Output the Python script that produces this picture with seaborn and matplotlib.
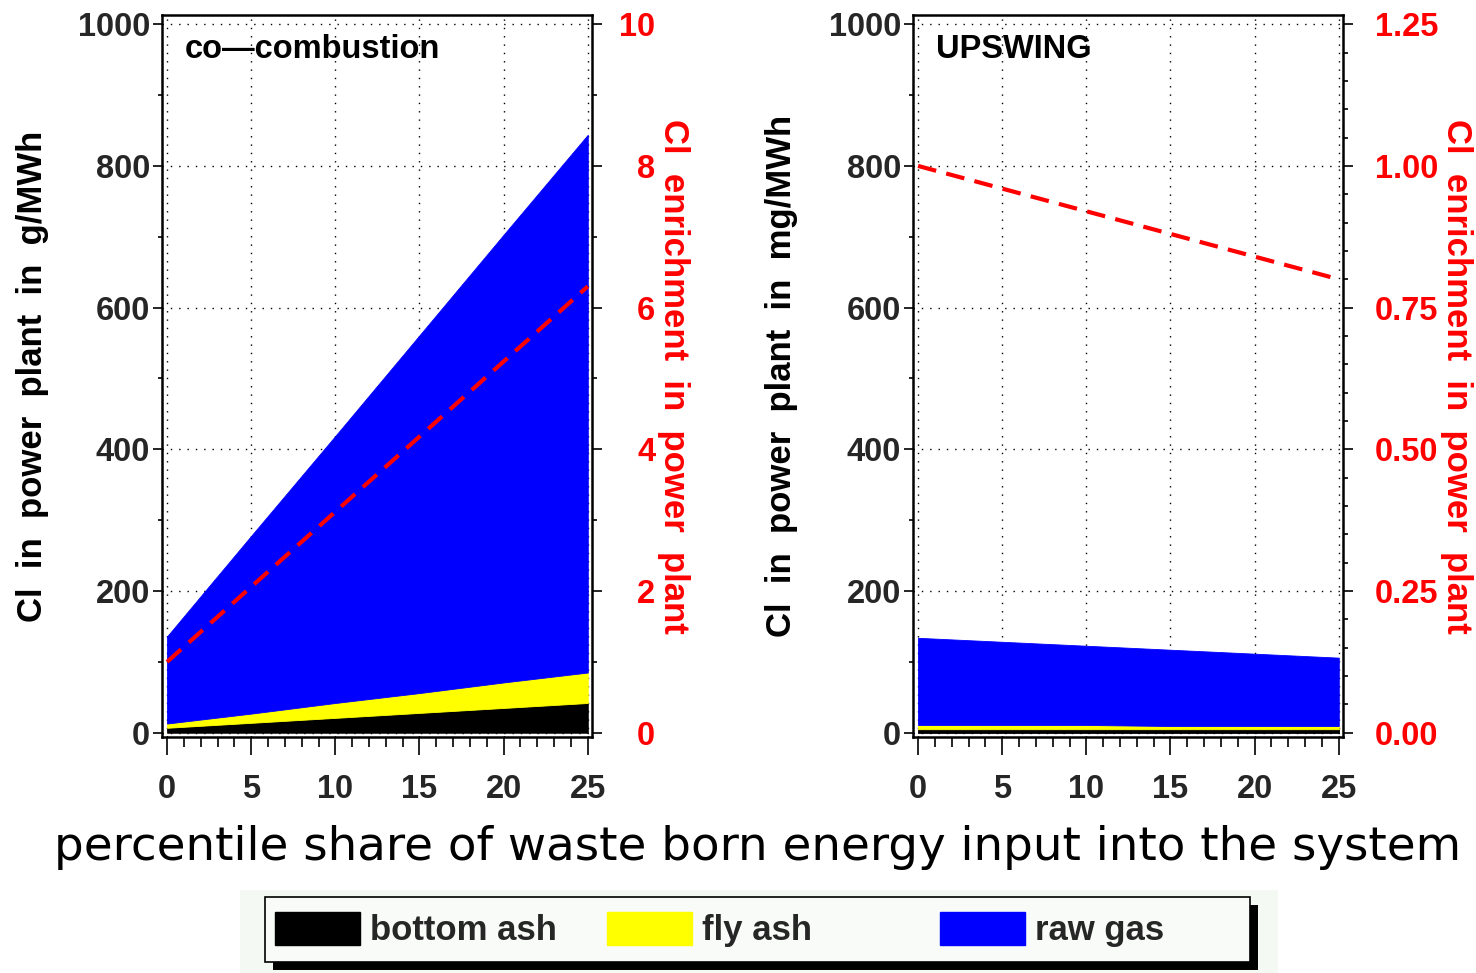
import numpy as np
import pandas as pd
import matplotlib
matplotlib.use("Agg")
import matplotlib.pyplot as plt
from matplotlib.patches import Patch, Rectangle
from matplotlib.ticker import MultipleLocator, FormatStrFormatter
import seaborn as sns

# share of waste-born energy input (%)
share = [0, 5, 10, 15, 20, 25]

# co-combustion scenario, Cl in g/MWh
cc_bottom_ash = [7, 14, 21, 28, 35, 42]
cc_fly_ash = [6, 13, 21, 28, 36, 43]
cc_raw_gas = [123, 251, 377, 505, 632, 759]
cc_enrichment = [1.0, 2.06, 3.12, 4.18, 5.24, 6.3]

# UPSWING scenario, Cl in mg/MWh
up_bottom_ash = [5, 5, 5, 5, 5, 5]
up_fly_ash = [6, 6, 6, 4.5, 4.5, 4.5]
up_raw_gas = [123, 117.4, 111.8, 107.7, 102.1, 96.5]
up_enrichment = [1.0, 0.96, 0.92, 0.88, 0.84, 0.80]

components = ["bottom ash", "fly ash", "raw gas"]
component_colors = ["#000000", "#ffff00", "#0000ff"]

sns.set_theme(style="white")
plt.rcParams["font.family"] = ["Liberation Sans", "DejaVu Sans"]
plt.rcParams["font.weight"] = "bold"

W, H = 1476, 973
fig = plt.figure(figsize=(W / 100, H / 100), dpi=100, facecolor="white")

YLIM = (-6, 1013)
XLIM = (-0.3, 25.25)
FS = 23.5      # tick labels
LFS = 25       # axis labels
TFS = 23.5     # panel titles


def draw_panel(left_px, bottom, fly, gas, enrich, title, ylabel,
               enrich_scale, enrich_major, enrich_minor, fmt, red_pad):
    rect = [left_px / W, 1 - 737 / H, 430 / W, 722 / H]
    ax = fig.add_axes(rect)
    ax.stackplot(share, bottom, fly, gas, colors=component_colors,
                 linewidth=0.6, edgecolor="face", zorder=1)
    ax.set_xlim(*XLIM)
    ax.set_ylim(*YLIM)
    ax.set_axisbelow(True)

    ax.xaxis.set_major_locator(MultipleLocator(5))
    ax.xaxis.set_minor_locator(MultipleLocator(1))
    ax.yaxis.set_major_locator(MultipleLocator(200))
    ax.yaxis.set_minor_locator(MultipleLocator(100))
    ax.grid(True, which="major", color="black", linestyle=(0, (1, 5)),
            linewidth=1.0)
    ax.tick_params(axis="x", which="major", direction="out", length=13,
                   width=1.2, color="black", pad=14, labelsize=FS,
                   bottom=True, top=False)
    ax.tick_params(axis="x", which="minor", direction="out", length=7,
                   width=1.2, color="black", bottom=True, top=False)
    ax.tick_params(axis="y", which="major", direction="out", length=6.5,
                   width=1.2, color="black", pad=2, labelsize=FS,
                   left=True, right=False)
    ax.tick_params(axis="y", which="minor", direction="out", length=3,
                   width=1.2, color="black", left=True, right=False)
    for s in ax.spines.values():
        s.set_visible(True)
        s.set_color("black")
        s.set_linewidth(1.8)

    ax.set_ylabel(ylabel, fontsize=LFS, fontweight="bold", color="black",
                  va="center", ha="center")
    ax.yaxis.set_label_coords(-0.298, 0.5)
    ax.text(0.053, 0.952, title, transform=ax.transAxes, fontsize=TFS,
            fontweight="bold", ha="left", va="center", color="black")

    ax2 = ax.twinx()
    sns.lineplot(x=share, y=enrich, ax=ax2, color="#ff0000", linewidth=3,
                 linestyle=(0, (4.5, 2.5)), zorder=3)
    ax2.set_ylim(YLIM[0] * enrich_scale, YLIM[1] * enrich_scale)
    ax2.yaxis.set_major_locator(MultipleLocator(enrich_major))
    ax2.yaxis.set_minor_locator(MultipleLocator(enrich_minor))
    ax2.yaxis.set_major_formatter(FormatStrFormatter(fmt))
    ax2.tick_params(axis="y", which="major", direction="out", length=7.5,
                    width=1.2, color="black", labelcolor="#ff0000",
                    labelsize=FS, pad=red_pad, right=True, left=False)
    ax2.tick_params(axis="y", which="minor", direction="out", length=3.5,
                    width=1.2, color="black", right=True, left=False)
    for s in ax2.spines.values():
        s.set_visible(False)
    ax2.grid(False)
    ax2.set_ylabel("Cl  enrichment  in  power  plant", fontsize=LFS,
                   fontweight="bold", color="#ff0000", rotation=270,
                   va="center", ha="center")
    return ax, ax2


ax_l, ax_l2 = draw_panel(162, cc_bottom_ash, cc_fly_ash, cc_raw_gas,
                         cc_enrichment, "co\u2014combustion",
                         "Cl  in  power  plant  in  g/MWh",
                         0.01, 2, 1, "%d", 38)
ax_r, ax_r2 = draw_panel(913, up_bottom_ash, up_fly_ash, up_raw_gas,
                         up_enrichment, "UPSWING",
                         "Cl  in  power  plant  in  mg/MWh",
                         0.00125, 0.25, 0.05, "%.2f", 61)
ax_l.yaxis.set_label_coords(-0.30, 0.5)
ax_r.yaxis.set_label_coords(-0.305, 0.5)
ax_l2.yaxis.set_label_coords(1.19, 0.5)
ax_r2.yaxis.set_label_coords(1.263, 0.5)
for a in (ax_l2, ax_r2):
    plt.setp(a.get_yticklabels(), ha="right")

# shared x-axis caption
fig.text(758 / W, 1 - 848 / H,
         "percentile share of waste born energy input into the system",
         fontsize=33.7, fontweight="normal", family=["DejaVu Sans"],
         ha="center", va="center", color="black")

# light panel behind the legend
fig.patches.append(Rectangle((240 / W, 0), 1038 / W, 83 / H,
                             transform=fig.transFigure, facecolor="#f4f9f4",
                             edgecolor="none", zorder=-1))

# legend box with a solid drop shadow
box_x0, box_x1, box_top, box_bot = 265, 1250, 897, 962
fig.patches.append(Rectangle(((box_x0 + 8) / W, 1 - (box_bot + 8) / H),
                             (box_x1 - box_x0) / W, (box_bot - box_top) / H,
                             transform=fig.transFigure, facecolor="black",
                             edgecolor="none", zorder=3))
fig.patches.append(Rectangle((box_x0 / W, 1 - box_bot / H),
                             (box_x1 - box_x0) / W, (box_bot - box_top) / H,
                             transform=fig.transFigure, facecolor="#f8fbf8",
                             edgecolor="black", linewidth=1.2, zorder=4))

LEG_FS = 25
em = LEG_FS * 100 / 72
handles = [Patch(facecolor=c, edgecolor=c, label=l)
           for c, l in zip(component_colors, components)]
leg_kw = dict(prop={"size": LEG_FS, "weight": "bold"}, frameon=False,
              handlelength=85 / em, handleheight=37 / em,
              handletextpad=10 / em, columnspacing=50 / em,
              borderpad=0, borderaxespad=0, loc="center left",
              bbox_transform=fig.transFigure)
yc = 1 - (box_top + box_bot) / 2 / H
leg_a = fig.legend(handles=handles[:2], ncol=2,
                   bbox_to_anchor=(275 / W, yc), **leg_kw)
leg_b = fig.legend(handles=handles[2:], ncol=1,
                   bbox_to_anchor=(940 / W, yc), **leg_kw)
leg_a.set_zorder(5)
leg_b.set_zorder(5)

fig.savefig("out.png", dpi=100, facecolor="white")
